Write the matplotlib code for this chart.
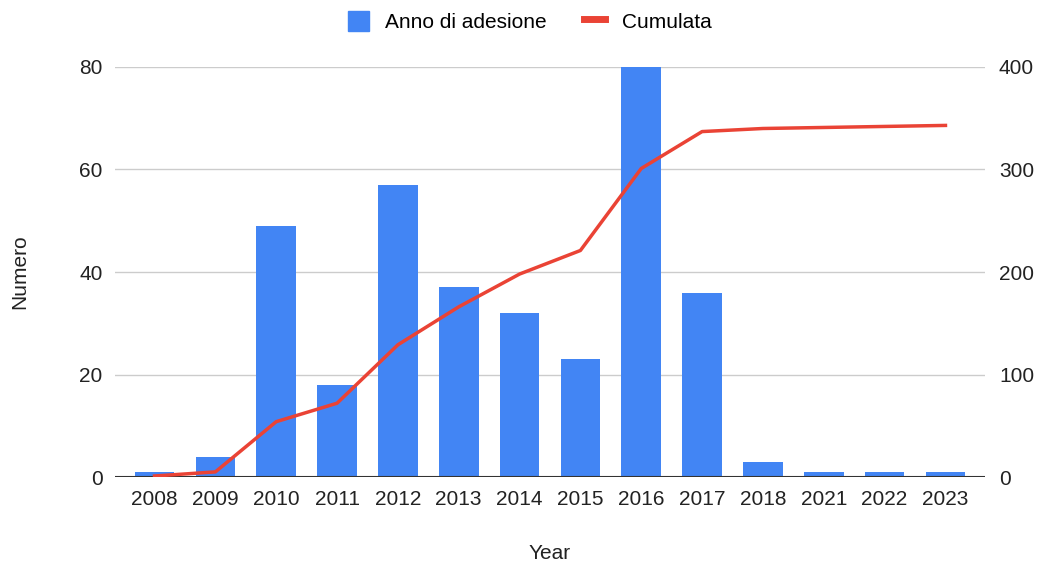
import matplotlib.pyplot as plt
import numpy as np
from matplotlib.lines import Line2D
from matplotlib.patches import Patch

plt.rcParams['font.family'] = ['Liberation Sans', 'DejaVu Sans']

years = ['2008', '2009', '2010', '2011', '2012', '2013', '2014',
         '2015', '2016', '2017', '2018', '2021', '2022', '2023']
adesione = [1, 4, 49, 18, 57, 37, 32, 23, 80, 36, 3, 1, 1, 1]
cumulata = np.cumsum(adesione)

blue = '#4285F4'
red = '#EA4335'
txt = '#222222'
fs = 15

fig = plt.figure(figsize=(10.49, 5.62), dpi=100)
ax = fig.add_axes([0.1096, 0.1512, 0.8294, 0.7296])
ax2 = ax.twinx()

x = np.arange(len(years))
ax.bar(x, adesione, width=0.65, color=blue, zorder=2)
ax2.plot(x, cumulata, color=red, lw=2.5, zorder=3)

ax.set_xlim(-0.65, len(years) - 0.35)
ax.set_ylim(0, 80)
ax2.set_ylim(0, 400)
ax.set_yticks([0, 20, 40, 60, 80])
ax2.set_yticks([0, 100, 200, 300, 400])
ax.set_xticks(x)
ax.set_xticklabels(years)

ax.grid(axis='y', color='#cccccc', lw=1, zorder=0)
ax.set_axisbelow(True)
for a in (ax, ax2):
    for s in a.spines.values():
        s.set_visible(False)
    a.tick_params(length=0, labelsize=fs, colors=txt)
ax.axhline(0, color='#333333', lw=1.5, zorder=4)
ax.tick_params(axis='y', pad=9)
ax2.tick_params(axis='y', pad=10)
ax.tick_params(axis='x', pad=9)

ax.set_ylabel('Numero', fontsize=fs, color=txt)
ax.yaxis.set_label_coords(-0.098, 0.5)
ax.set_xlabel('Year', fontsize=fs, color=txt)
ax.xaxis.set_label_coords(0.5, -0.163)

# line above the bars
ax.set_zorder(ax2.get_zorder() - 1)
ax.patch.set_visible(False)

handles = [Patch(color=blue, label='Anno di adesione'),
           Line2D([0], [0], color=red, lw=5, label='Cumulata')]
fig.legend(handles=handles, loc='center', bbox_to_anchor=(0.505, 0.962),
           ncol=2, frameon=False, fontsize=fs, handlelength=1.0,
           handleheight=1.1, columnspacing=1.8, handletextpad=0.8)

fig.savefig('out.png', dpi=100)
